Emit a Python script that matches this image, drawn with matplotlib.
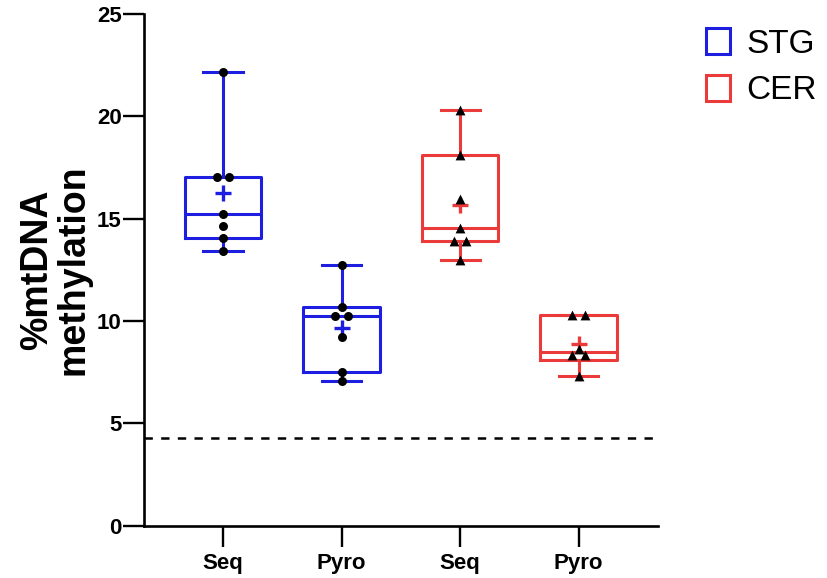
import numpy as np
import matplotlib
matplotlib.use("Agg")
import matplotlib.pyplot as plt
from matplotlib.patches import Patch

plt.rcParams['font.family'] = ['Liberation Sans', 'DejaVu Sans']
plt.rcParams['lines.scale_dashes'] = False

# values
stg_seq = [22.15, 17.05, 17.05, 15.24, 14.62, 14.05, 13.43]
stg_pyro = [12.74, 10.67, 10.22, 10.22, 9.21, 7.52, 7.07]
cer_seq = [20.33, 18.13, 15.97, 14.54, 13.92, 13.92, 12.99]
cer_pyro = [10.30, 10.30, 8.62, 8.34, 8.34, 7.30]
tick_labels = ["Seq", "Pyro", "Seq", "Pyro"]
groups = ["STG", "CER"]
cutoff = 4.28

blue = "#1E1EE0"
red = "#EA3A3A"

data = [stg_seq, stg_pyro, cer_seq, cer_pyro]
colors = [blue, blue, red, red]
markers = ["o", "o", "^", "^"]
positions = [1, 2, 3, 4]


def box_stats(vals):
    v = np.array(vals)
    q1, med, q3 = np.percentile(v, [25, 50, 75], method="weibull")
    return dict(med=med, q1=q1, q3=q3, whislo=v.min(), whishi=v.max(),
                mean=v.mean(), fliers=[])


def swarm(vals, dx=0.052, dy_tol=0.4):
    # spread tied values sideways, push colliding singles to the right
    offs = []
    placed = []
    i = 0
    vals = list(vals)
    while i < len(vals):
        k = 1
        while i + k < len(vals) and vals[i + k] == vals[i]:
            k += 1
        if k > 1:
            for j in range(k):
                o = (j - (k - 1) / 2) * 2 * dx
                offs.append(o)
                placed.append((o, vals[i]))
        else:
            o = 0.0
            for (po, pv) in placed:
                if abs(pv - vals[i]) < dy_tol and abs(po - o) < dx:
                    o = dx
            offs.append(o)
            placed.append((o, vals[i]))
        i += k
    return np.array(offs)


fig = plt.figure(figsize=(8.27, 5.78), dpi=100)
ax = fig.add_axes([144 / 827, 1 - 525.5 / 578, (658 - 144) / 827, (525.5 - 14) / 578])

ax.axhline(cutoff, color="black", lw=1.8, ls=(0, (6, 6)), zorder=1)

for p, vals, c, m in zip(positions, data, colors, markers):
    st = box_stats(vals)
    ax.bxp([st], positions=[p], widths=0.645, capwidths=0.33, showmeans=True,
           showfliers=False, patch_artist=False,
           boxprops=dict(color=c, lw=2.2),
           whiskerprops=dict(color=c, lw=2.2),
           capprops=dict(color=c, lw=2.2),
           medianprops=dict(color=c, lw=2.2),
           meanprops=dict(marker="+", markeredgecolor=c, markersize=12,
                          markeredgewidth=2.4, linestyle="none"),
           zorder=2)
    xs = p + swarm(vals)
    ax.scatter(xs, vals, marker=m, s=42 if m == "o" else 50, color="black",
               zorder=4, linewidths=0)

ax.set_xlim(0.333, 4.67)
ax.set_ylim(0, 25)
ax.set_yticks([0, 5, 10, 15, 20, 25])
ax.set_xticks(positions)
ax.set_xticklabels(tick_labels)
for s in ["top", "right"]:
    ax.spines[s].set_visible(False)
for s in ["left", "bottom"]:
    ax.spines[s].set_linewidth(1.9)
ax.tick_params(axis="both", length=15, width=1.7, labelsize=16)
ax.tick_params(axis="x", pad=5)
ax.tick_params(axis="y", pad=1)
for lab in ax.get_xticklabels() + ax.get_yticklabels():
    lab.set_fontweight("bold")

ax.set_ylabel("%mtDNA\nmethylation", fontsize=27, fontweight="bold", linespacing=1.0)
ax.yaxis.set_label_coords(-0.103, 0.5)

handles = [Patch(facecolor="none", edgecolor=blue, lw=2.2),
           Patch(facecolor="none", edgecolor=red, lw=2.2)]
fig.legend(handles, groups, loc="upper left", bbox_to_anchor=(0.838, 0.975),
           frameon=False, fontsize=24, handlelength=0.7, handleheight=0.85,
           handletextpad=0.5, labelspacing=0.45, borderaxespad=0)

fig.savefig("out.png", dpi=100)
